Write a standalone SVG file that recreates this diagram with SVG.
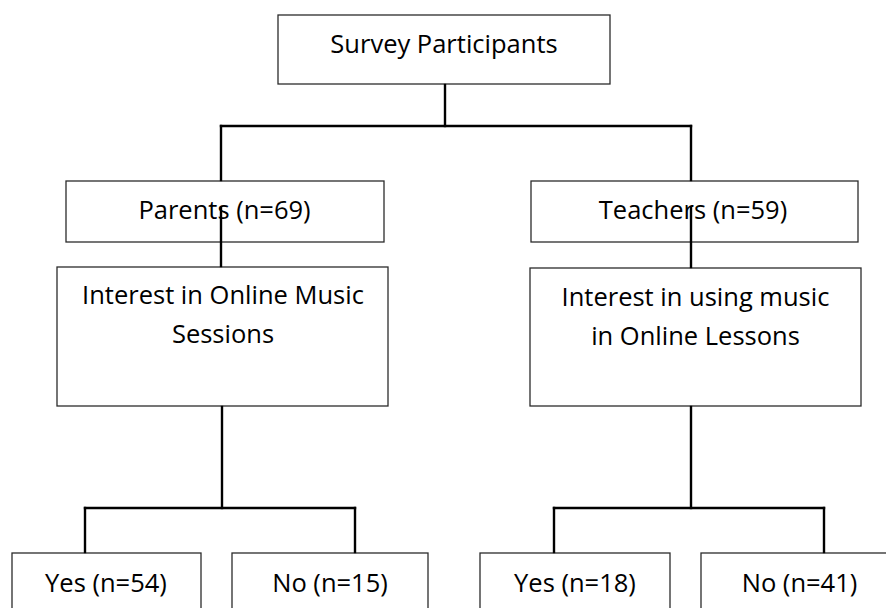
<svg xmlns="http://www.w3.org/2000/svg" width="886" height="608" viewBox="0 0 886 608">
  <style>
    .box { fill: #ffffff; stroke: #2b2b2b; stroke-width: 1.3; }
    .lbl { font-family: "Open Sans", "Liberation Sans", sans-serif; font-size: 25.5px; fill: #000000; text-anchor: middle; }
    .conn line { stroke: #000000; stroke-width: 2.4; stroke-linecap: square; }
  </style>
  <rect width="886" height="608" fill="#ffffff"/>
  <g id="survey">
    <rect class="box" x="278" y="15" width="332" height="69"/>
    <text class="lbl" x="444" y="53">Survey Participants</text>
  </g>
  <g id="parents">
    <rect class="box" x="66" y="181" width="318" height="61"/>
    <text class="lbl" x="224.5" y="219">Parents (n=69)</text>
  </g>
  <g id="teachers">
    <rect class="box" x="531" y="181" width="327" height="61"/>
    <text class="lbl" x="693" y="219">Teachers (n=59)</text>
  </g>
  <g id="parents-interest">
    <rect class="box" x="57" y="267" width="331" height="139"/>
    <text class="lbl" x="223" y="304">Interest in Online Music</text>
    <text class="lbl" x="223" y="343">Sessions</text>
  </g>
  <g id="teachers-interest">
    <rect class="box" x="530" y="268" width="331" height="138"/>
    <text class="lbl" x="695.5" y="306">Interest in using music</text>
    <text class="lbl" x="695.5" y="345">in Online Lessons</text>
  </g>
  <g id="parents-yes">
    <rect class="box" x="12" y="553" width="189" height="70"/>
    <text class="lbl" x="106" y="592">Yes (n=54)</text>
  </g>
  <g id="parents-no">
    <rect class="box" x="232" y="553" width="196" height="70"/>
    <text class="lbl" x="330" y="592">No (n=15)</text>
  </g>
  <g id="teachers-yes">
    <rect class="box" x="480" y="553" width="190" height="70"/>
    <text class="lbl" x="575" y="592">Yes (n=18)</text>
  </g>
  <g id="teachers-no">
    <rect class="box" x="701" y="553" width="197" height="70"/>
    <text class="lbl" x="799.5" y="592">No (n=41)</text>
  </g>
  <g id="connectors" class="conn">
    <line x1="445" y1="85" x2="445" y2="126"/>
    <line x1="221" y1="126" x2="691" y2="126"/>
    <line x1="221" y1="126" x2="221" y2="180"/>
    <line x1="691" y1="126" x2="691" y2="180"/>
    <line x1="221" y1="208" x2="221" y2="266"/>
    <line x1="691" y1="208" x2="691" y2="267"/>
    <line x1="222" y1="407" x2="222" y2="508"/>
    <line x1="85" y1="508" x2="355" y2="508"/>
    <line x1="85" y1="508" x2="85" y2="552"/>
    <line x1="355" y1="508" x2="355" y2="552"/>
    <line x1="691" y1="407" x2="691" y2="508"/>
    <line x1="554" y1="508" x2="824" y2="508"/>
    <line x1="554" y1="508" x2="554" y2="552"/>
    <line x1="824" y1="508" x2="824" y2="552"/>
  </g>
</svg>
